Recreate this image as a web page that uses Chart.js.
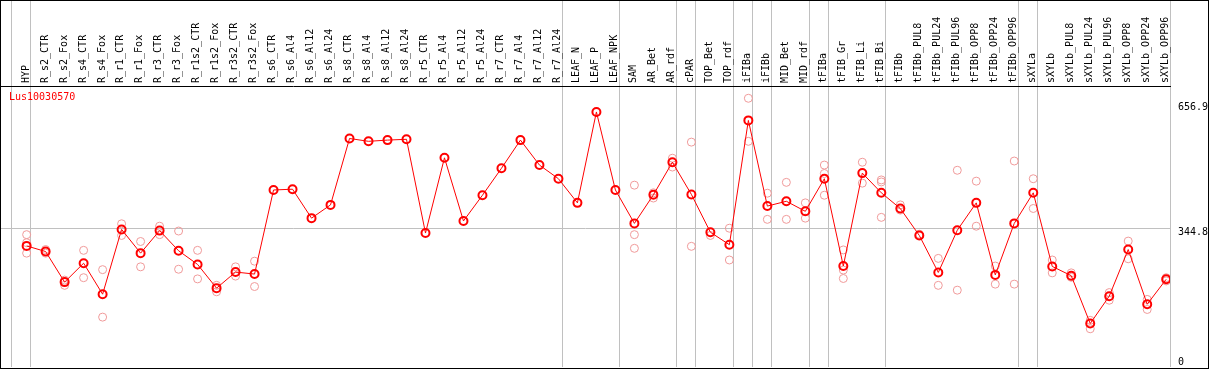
<!DOCTYPE html>
<html><head><meta charset="utf-8">
<script src="https://cdn.jsdelivr.net/npm/chart.js@4/dist/chart.umd.min.js"></script>
<style>
html,body{margin:0;padding:0;background:#fff;}
#wrap{position:relative;width:1207px;height:367px;border:1px solid #000;}
#gene{position:absolute;left:8px;top:90px;font:10px "DejaVu Sans Mono",monospace;line-height:12px;color:#f00;}
canvas{display:block;}
</style></head><body>
<div id="wrap"><canvas id="c" width="1207" height="367"></canvas><div id="gene">Lus10030570</div></div>
<script>
const categories = ["HYP","R_s2_CTR","R_s2_Fox","R_s4_CTR","R_s4_Fox","R_r1_CTR","R_r1_Fox","R_r3_CTR","R_r3_Fox","R_r1s2_CTR","R_r1s2_Fox","R_r3s2_CTR","R_r3s2_Fox","R_s6_CTR","R_s6_Al4","R_s6_Al12","R_s6_Al24","R_s8_CTR","R_s8_Al4","R_s8_Al12","R_s8_Al24","R_r5_CTR","R_r5_Al4","R_r5_Al12","R_r5_Al24","R_r7_CTR","R_r7_Al4","R_r7_Al12","R_r7_Al24","LEAF_N","LEAF_P","LEAF_NPK","SAM","AR_Bet","AR_rdf","cPAR","TOP_Bet","TOP_rdf","iFIBa","iFIBb","MID_Bet","MID_rdf","tFIBa","tFIB_Gr","tFIB_Li","tFIB_Bi","tFIBb","tFIBb_PUL8","tFIBb_PUL24","tFIBb_PUL96","tFIBb_OPP8","tFIBb_OPP24","tFIBb_OPP96","sXYLa","sXYLb","sXYLb_PUL8","sXYLb_PUL24","sXYLb_PUL96","sXYLb_OPP8","sXYLb_OPP24","sXYLb_OPP96"];
const means = [301,287,211,258,181,342,283,339,289,255,196,236,231,440,442,370,403,568,561,564,566,333,520,363,427,494,564,502,468,408,634,440,357,428,509,429,335,304,613,400,412,387,468,251,482,433,394,327,235,340,408,229,357,433,250,227,108,176,292,156,218];
const rep1 = [329,292,216,290,242,356,312,350,338,290,203,249,263,null,null,null,null,null,null,null,null,null,null,null,null,null,null,null,null,null,null,null,452,433,519,559,327,345,668,432,459,408,502,291,509,465,403,330,270,489,462,251,512,468,266,234,116,185,313,168,222];
const rep2 = [309,283,203,222,124,327,249,329,243,219,187,226,200,null,null,null,null,null,null,null,null,null,null,null,null,null,null,null,null,null,null,null,329,420,497,300,null,266,561,367,367,370,481,241,457,460,390,null,203,191,350,206,206,394,234,223,95,166,269,143,214];
const rep3 = [283,null,null,null,null,null,null,null,null,null,null,null,null,null,null,null,null,null,null,null,null,null,null,null,null,null,null,null,null,null,null,null,295,null,null,null,null,null,null,null,null,null,427,220,null,372,null,null,null,null,null,null,null,null,null,null,null,null,null,null,null];
const yTicks = [0, 344.8, 656.9];
const groupBreaks = [-1,0,28,31,34,35,37,38,39,41,42,45,52,53,60];

const meanPts = means.map((v,i)=>({x:i,y:v}));
const repPts = [];
[rep1,rep2,rep3].forEach(r=>r.forEach((v,i)=>{ if(v!==null) repPts.push({x:i,y:v}); }));

function noPad(s){ s.paddingLeft=0; s.paddingRight=0; s.paddingTop=0; s.paddingBottom=0; }
const mono = {family:'"DejaVu Sans Mono", monospace', size:10};
new Chart(document.getElementById('c'), {
  type:'line',
  data:{datasets:[
    {label:'mean', data:meanPts, borderColor:'#ff0000', borderWidth:1, pointRadius:4, pointBorderWidth:2,
     pointBorderColor:'#ff0000', pointBackgroundColor:'rgba(0,0,0,0)', tension:0, order:0},
    {type:'scatter', label:'replicates', data:repPts, pointRadius:4, pointBorderWidth:1,
     borderColor:'#f09a9a', backgroundColor:'rgba(0,0,0,0)', order:1}
  ]},
  options:{
    responsive:false, animation:false,
    layout:{autoPadding:false, padding:{left:0,right:0,top:0,bottom:1}},
    plugins:{legend:{display:false}, tooltip:{enabled:false}},
    scales:{
      x:{type:'linear', position:'top', min:-1.35, max:60.2,
        afterBuildTicks:s=>{ const t=[]; for(let i=-1;i<=60;i++) t.push({value:i+0.2}); s.ticks=t; },
        ticks:{autoSkip:false, minRotation:90, maxRotation:90, labelOffset:7.5, padding:-82, font:mono, color:'#000',
          callback:(v)=>{ const i=Math.round(v-0.2); return i>=0 ? categories[i] : ''; }},
        grid:{color:ctx=>(ctx.tick && groupBreaks.includes(Math.round(ctx.tick.value-0.2))) ? '#c0c0c0' : 'rgba(0,0,0,0)',
          tickLength:85, drawTicks:true, lineWidth:1},
        border:{display:true, color:'#000', width:1},
        afterFit:s=>{ s.height=85; noPad(s); }
      },
      y:{type:'linear', position:'right', min:0, max:698.5,
        afterBuildTicks:s=>{ s.ticks = yTicks.map(v=>({value:v})); },
        ticks:{autoSkip:false, padding:8, crossAlign:'near', color:'#000',
          font:{family:'"DejaVu Sans Mono", monospace', size:10, lineHeight:0.9},
          callback:v=> v===0 ? ['0',''] : ['', String(v)]},
        grid:{drawTicks:false, color:ctx=>(ctx.tick && ctx.tick.value===344.8) ? '#c0c0c0' : 'rgba(0,0,0,0)'},
        border:{display:false},
        afterFit:s=>{ s.width=38; noPad(s); }
      }
    }
  }
});
</script>
</body></html>
